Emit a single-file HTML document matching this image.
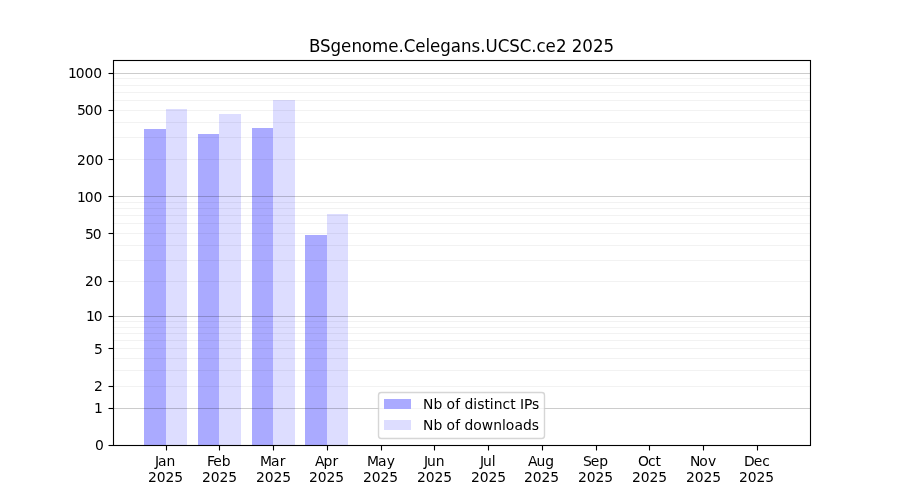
<!DOCTYPE html>
<html lang="en">
<head>
<meta charset="utf-8">
<title>BSgenome.Celegans.UCSC.ce2 2025</title>
<style>
html,body{margin:0;padding:0;background:#fff;}
body{width:900px;height:500px;overflow:hidden;}
svg{display:block;}
text{font-family:"DejaVu Sans","Liberation Sans",sans-serif;fill:#000;}
.t{font-size:13.889px;}
.h{font-size:16.667px;}
</style>
</head>
<body>
<svg width="900" height="500" viewBox="0 0 900 500">
<rect x="0" y="0" width="900" height="500" fill="#ffffff"/>
<g id="bars">
<rect x="144" y="129" width="22" height="316" fill="#aaaaff"/>
<rect x="166" y="109" width="21" height="336" fill="#ddddff"/>
<rect x="198" y="134" width="21" height="311" fill="#aaaaff"/>
<rect x="219" y="114" width="22" height="331" fill="#ddddff"/>
<rect x="252" y="128" width="21" height="317" fill="#aaaaff"/>
<rect x="273" y="100" width="22" height="345" fill="#ddddff"/>
<rect x="305" y="235" width="22" height="210" fill="#aaaaff"/>
<rect x="327" y="214" width="21" height="231" fill="#ddddff"/>
</g>
<g id="grid" stroke="#000000" stroke-width="1.111" fill="none">
<line x1="112.5" y1="408.5" x2="810" y2="408.5" stroke-opacity="0.2"/>
<line x1="112.5" y1="316.5" x2="810" y2="316.5" stroke-opacity="0.2"/>
<line x1="112.5" y1="196.5" x2="810" y2="196.5" stroke-opacity="0.2"/>
<line x1="112.5" y1="73.5" x2="810" y2="73.5" stroke-opacity="0.2"/>
<line x1="112.5" y1="386.5" x2="810" y2="386.5" stroke-opacity="0.05"/>
<line x1="112.5" y1="370.5" x2="810" y2="370.5" stroke-opacity="0.05"/>
<line x1="112.5" y1="358.5" x2="810" y2="358.5" stroke-opacity="0.05"/>
<line x1="112.5" y1="348.5" x2="810" y2="348.5" stroke-opacity="0.05"/>
<line x1="112.5" y1="340.5" x2="810" y2="340.5" stroke-opacity="0.05"/>
<line x1="112.5" y1="333.5" x2="810" y2="333.5" stroke-opacity="0.05"/>
<line x1="112.5" y1="327.5" x2="810" y2="327.5" stroke-opacity="0.05"/>
<line x1="112.5" y1="321.5" x2="810" y2="321.5" stroke-opacity="0.05"/>
<line x1="112.5" y1="281.5" x2="810" y2="281.5" stroke-opacity="0.05"/>
<line x1="112.5" y1="260.5" x2="810" y2="260.5" stroke-opacity="0.05"/>
<line x1="112.5" y1="245.5" x2="810" y2="245.5" stroke-opacity="0.05"/>
<line x1="112.5" y1="233.5" x2="810" y2="233.5" stroke-opacity="0.05"/>
<line x1="112.5" y1="223.5" x2="810" y2="223.5" stroke-opacity="0.05"/>
<line x1="112.5" y1="215.5" x2="810" y2="215.5" stroke-opacity="0.05"/>
<line x1="112.5" y1="208.5" x2="810" y2="208.5" stroke-opacity="0.05"/>
<line x1="112.5" y1="202.5" x2="810" y2="202.5" stroke-opacity="0.05"/>
<line x1="112.5" y1="159.5" x2="810" y2="159.5" stroke-opacity="0.05"/>
<line x1="112.5" y1="137.5" x2="810" y2="137.5" stroke-opacity="0.05"/>
<line x1="112.5" y1="122.5" x2="810" y2="122.5" stroke-opacity="0.05"/>
<line x1="112.5" y1="110.5" x2="810" y2="110.5" stroke-opacity="0.05"/>
<line x1="112.5" y1="100.5" x2="810" y2="100.5" stroke-opacity="0.05"/>
<line x1="112.5" y1="92.5" x2="810" y2="92.5" stroke-opacity="0.05"/>
<line x1="112.5" y1="85.5" x2="810" y2="85.5" stroke-opacity="0.05"/>
<line x1="112.5" y1="78.5" x2="810" y2="78.5" stroke-opacity="0.05"/>
</g>
<g id="ticks" stroke="#000000" stroke-width="1.111" fill="none">
<line x1="166.5" y1="445.5" x2="166.5" y2="450.5"/>
<line x1="219.5" y1="445.5" x2="219.5" y2="450.5"/>
<line x1="273.5" y1="445.5" x2="273.5" y2="450.5"/>
<line x1="327.5" y1="445.5" x2="327.5" y2="450.5"/>
<line x1="381.5" y1="445.5" x2="381.5" y2="450.5"/>
<line x1="434.5" y1="445.5" x2="434.5" y2="450.5"/>
<line x1="488.5" y1="445.5" x2="488.5" y2="450.5"/>
<line x1="542.5" y1="445.5" x2="542.5" y2="450.5"/>
<line x1="596.5" y1="445.5" x2="596.5" y2="450.5"/>
<line x1="649.5" y1="445.5" x2="649.5" y2="450.5"/>
<line x1="703.5" y1="445.5" x2="703.5" y2="450.5"/>
<line x1="757.5" y1="445.5" x2="757.5" y2="450.5"/>
<line x1="108.5" y1="445.5" x2="113.5" y2="445.5"/>
<line x1="108.5" y1="408.5" x2="113.5" y2="408.5"/>
<line x1="108.5" y1="386.5" x2="113.5" y2="386.5"/>
<line x1="108.5" y1="348.5" x2="113.5" y2="348.5"/>
<line x1="108.5" y1="316.5" x2="113.5" y2="316.5"/>
<line x1="108.5" y1="281.5" x2="113.5" y2="281.5"/>
<line x1="108.5" y1="233.5" x2="113.5" y2="233.5"/>
<line x1="108.5" y1="196.5" x2="113.5" y2="196.5"/>
<line x1="108.5" y1="159.5" x2="113.5" y2="159.5"/>
<line x1="108.5" y1="110.5" x2="113.5" y2="110.5"/>
<line x1="108.5" y1="73.5" x2="113.5" y2="73.5"/>
</g>
<rect id="frame" x="113.5" y="60.5" width="697" height="385" fill="none" stroke="#000000" stroke-width="1.111"/>
<rect id="legend" x="378.5" y="392.5" width="166" height="46" rx="2.778" ry="2.778" fill="#ffffff" stroke="#cccccc" stroke-width="1.389" opacity="0.8"/>
<rect x="384" y="399" width="27" height="10" fill="#aaaaff"/>
<rect x="384" y="420" width="27" height="10" fill="#ddddff"/>
<g id="labels">
<text id="t0" class="t" x="154.99 158.068 166.584" y="466">Jan</text>
<text id="t1" class="t" x="147.9 156.712 165.541 174.369" y="482">2025</text>
<text id="t2" class="t" x="206.895 213.239 221.77" y="466">Feb</text>
<text id="t3" class="t" x="201.89 210.702 219.531 228.359" y="482">2025</text>
<text id="t4" class="t" x="259.94 270.909 279.659" y="466">Mar</text>
<text id="t5" class="t" x="255.995 264.682 273.511 282.339" y="482">2025</text>
<text id="t6" class="t" x="314.89 323.624 332.437" y="466">Apr</text>
<text id="t7" class="t" x="308.985 317.672 326.501 335.329" y="482">2025</text>
<text id="t8" class="t" x="366.91 377.879 386.629" y="466">May</text>
<text id="t9" class="t" x="362.975 371.663 380.491 389.319" y="482">2025</text>
<text id="t10" class="t" x="423.91 426.988 435.785" y="466">Jun</text>
<text id="t11" class="t" x="416.955 425.642 434.471 443.299" y="482">2025</text>
<text id="t12" class="t" x="479.99 483.068 491.865" y="466">Jul</text>
<text id="t13" class="t" x="470.945 479.633 488.461 497.289" y="482">2025</text>
<text id="t14" class="t" x="527.92 536.404 545.201" y="466">Aug</text>
<text id="t15" class="t" x="523.93 532.742 541.571 550.149" y="482">2025</text>
<text id="t16" class="t" x="582.88 590.677 599.224" y="466">Sep</text>
<text id="t17" class="t" x="577.92 586.732 595.561 604.139" y="482">2025</text>
<text id="t18" class="t" x="637.95 648.106 655.497" y="466">Oct</text>
<text id="t19" class="t" x="631.9 640.713 649.541 658.369" y="482">2025</text>
<text id="t20" class="t" x="689.88 699.13 707.989" y="466">Nov</text>
<text id="t21" class="t" x="685.89 694.703 703.531 712.359" y="482">2025</text>
<text id="t22" class="t" x="743.99 753.662 762.209" y="466">Dec</text>
<text id="t23" class="t" x="738.88 747.693 756.521 765.349" y="482">2025</text>
<text id="t24" class="t" x="94.952" y="450">0</text>
<text id="t25" class="t" x="93.952" y="413">1</text>
<text id="t26" class="t" x="93.952" y="391">2</text>
<text id="t27" class="t" x="93.952" y="354">5</text>
<text id="t28" class="t" x="85.994 93.681" y="321">10</text>
<text id="t29" class="t" x="84.994 93.806" y="286">20</text>
<text id="t30" class="t" x="84.994 92.806" y="239">50</text>
<text id="t31" class="t" x="76.916 84.728 93.556" y="202">100</text>
<text id="t32" class="t" x="76.916 85.728 94.556" y="165">200</text>
<text id="t33" class="t" x="76.916 84.728 93.556" y="115">500</text>
<text id="t34" class="t" x="67.967 75.78 84.608 93.186" y="78">1000</text>
<text id="t35" class="h" x="308.932 319.927 330.504 340.956 351.45 361.637 371.946 388.181 398.426 403.722 415.229 425.474 429.981 440.226 450.803 461.002 471.564 480.239 485.535 497.726 509.359 519.686 531.194 536.49 545.398 555.893 566.859 571.655 582.137 592.979 603.446" y="52" transform="matrix(1 0 0 1.07 0 -3.64)">BSgenome.Celegans.UCSC.ce2 2025</text>
<text id="t36" class="t" x="423.12 433.495 442.292 446.464 455.198 460.089 464.495 473.307 477.151 484.386 489.823 493.682 502.479 510.229 515.542 519.948 524.042 531.917" y="409">Nb of distinct IPs</text>
<text id="t37" class="t" x="423.12 433.495 442.292 446.464 455.198 460.089 464.495 473.307 481.792 493.136 501.932 505.792 514.401 522.901 531.714" y="430">Nb of downloads</text>
</g>
</svg>
</body>
</html>
